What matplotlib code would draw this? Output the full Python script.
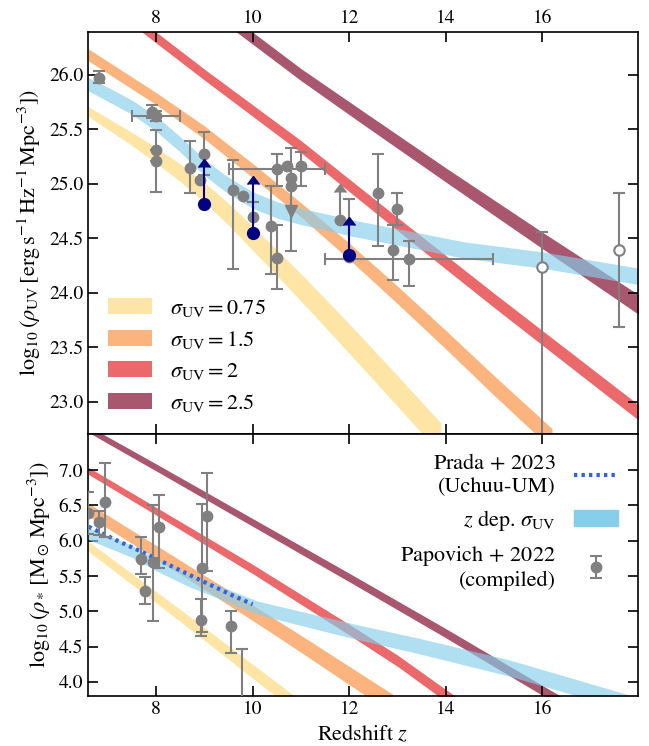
import matplotlib
matplotlib.use("Agg")
import matplotlib.pyplot as plt
import numpy as np
from matplotlib.patches import Patch

plt.rcParams.update({
    "font.family": "serif",
    "font.serif": ["STIXGeneral", "Liberation Serif", "DejaVu Serif"],
    "mathtext.fontset": "stix",
    "font.size": 16,
    "xtick.labelsize": 14, "ytick.labelsize": 14,
    "axes.linewidth": 1.2,
})

# ---- rho_UV bands (centre, full thickness) ----
uv_z_075 = [6.6, 7.5, 8.0, 8.5, 9.0, 9.5, 10.0, 11.0, 12.0, 13.0, 13.9]
uv_c_075 = [25.66, 25.41, 25.26, 25.10, 24.92, 24.72, 24.50, 24.05, 23.58, 23.10, 22.66]
uv_w_075 = [0.09, 0.12, 0.14, 0.16, 0.18, 0.20, 0.22, 0.25, 0.27, 0.28, 0.29]

uv_z_15 = [6.6, 8.0, 9.0, 10.0, 11.0, 12.0, 13.0, 14.0, 15.0, 16.2]
uv_c_15 = [26.18, 25.78, 25.47, 25.12, 24.76, 24.38, 23.98, 23.57, 23.15, 22.66]
uv_w_15 = [0.11, 0.11, 0.12, 0.13, 0.13, 0.15, 0.16, 0.17, 0.18, 0.19]

uv_z_2 = [7.5, 9.0, 11.0, 13.0, 15.0, 18.0]
uv_c_2 = [26.51, 26.00, 25.34, 24.63, 23.93, 22.90]
uv_w_2 = [0.10, 0.10, 0.11, 0.12, 0.13, 0.14]

uv_z_25 = [9.5, 11.0, 12.2, 14.0, 16.0, 18.0]
uv_c_25 = [26.50, 26.00, 25.63, 25.08, 24.48, 23.89]
uv_w_25 = [0.11, 0.11, 0.12, 0.13, 0.15, 0.18]

uv_z_zdep = [6.6, 7.0, 7.5, 8.0, 8.5, 9.0, 9.44, 10.0, 10.5, 11.0, 12.1, 14.4, 16.0, 18.0]
uv_c_zdep = [25.91, 25.82, 25.70, 25.55, 25.36, 25.15, 25.00, 24.85, 24.76, 24.70, 24.59, 24.39, 24.30, 24.15]
uv_w_zdep = [0.12, 0.13, 0.13, 0.14, 0.14, 0.15, 0.15, 0.15, 0.15, 0.15, 0.15, 0.15, 0.15, 0.15]

# ---- rho_* bands ----
sm_z_075 = [6.6, 8.0, 9.0, 10.0, 10.9]
sm_c_075 = [5.92, 5.20, 4.68, 4.15, 3.68]
sm_w_075 = [0.14, 0.16, 0.18, 0.20, 0.21]

sm_z_15 = [6.6, 8.0, 9.0, 10.0, 11.0, 12.0, 12.9]
sm_c_15 = [6.44, 5.84, 5.41, 4.98, 4.54, 4.09, 3.69]
sm_w_15 = [0.18, 0.19, 0.20, 0.22, 0.24, 0.26, 0.27]

sm_z_2 = [6.6, 8.0, 10.0, 12.0, 13.0, 14.2]
sm_c_2 = [6.99, 6.42, 5.60, 4.74, 4.30, 3.71]
sm_w_2 = [0.10, 0.11, 0.13, 0.15, 0.16, 0.17]

sm_z_25 = [6.6, 8.0, 10.0, 12.0, 14.0, 16.0, 16.5]
sm_c_25 = [7.58, 7.04, 6.26, 5.48, 4.69, 3.88, 3.68]
sm_w_25 = [0.09, 0.10, 0.11, 0.12, 0.13, 0.14, 0.14]

sm_z_zdep = [6.6, 7.5, 8.0, 8.68, 9.2, 9.7, 10.1, 11.0, 12.2, 13.5, 15.3, 17.3, 18.0]
sm_c_zdep = [6.10, 5.85, 5.66, 5.44, 5.30, 5.16, 5.05, 4.90, 4.70, 4.50, 4.20, 3.80, 3.66]
sm_w_zdep = [0.17, 0.17, 0.17, 0.18, 0.18, 0.19, 0.19, 0.20, 0.21, 0.22, 0.23, 0.23, 0.23]

# Prada+2023 (Uchuu-UM)
prada_z = [6.6, 7.2, 7.65, 8.2, 8.68, 9.2, 9.57, 10.0]
prada_v = [6.20, 6.00, 5.86, 5.68, 5.52, 5.35, 5.23, 5.10]

# ---- Papovich+2022 compiled, rho_UV ----
uv_pz = [6.81, 7.91, 8.0, 8.0, 8.7, 9.0, 9.59, 10.0, 10.39, 10.5, 10.8, 11.01, 12.0, 12.59, 12.99, 12.9]
uv_pv = [25.97, 25.66, 25.31, 25.21, 25.14, 25.27, 24.94, 24.69, 24.61, 24.32, 25.05, 25.16, 24.33, 24.91, 24.77, 24.39]
uv_plo = [0.05, 0.06, 0.10, 0.29, 0.23, 0.19, 0.72, 0.14, 0.44, 0.29, 0.67, 0.18, 0.0, 0.48, 0.15, 0.27]
uv_phi = [0.06, 0.06, 0.18, 0.10, 0.25, 0.20, 0.28, 0.14, 0.37, 0.30, 0.28, 0.13, 0.53, 0.36, 0.14, 0.23]
# points with a redshift range
uv_xz = [8.0, 10.5, 13.24]
uv_xv = [25.62, 25.13, 24.31]
uv_xdz = [0.5, 1.0, 1.74]
uv_xlo = [0.05, 0.15, 0.25]
uv_xhi = [0.05, 0.14, 0.16]
# points without bars
uv_nz = [8.9, 9.8, 10.71, 10.8]
uv_nv = [25.03, 24.89, 25.16, 24.98]
# gray limits
uv_upper_z, uv_upper_v = [10.8], [24.75]
uv_glim_z, uv_glim_v, uv_glim_d = [11.8], [24.67], [0.25]
# open symbols
uv_oz = [16.0, 17.59]
uv_ov = [24.24, 24.39]
uv_olo = [2.0, 0.70]
uv_ohi = [0.32, 0.52]
# blue lower limits
uv_bz = [9.0, 10.0, 12.0]
uv_bv = [24.81, 24.55, 24.35]
uv_bd = [0.34, 0.45, 0.27]

# ---- Papovich+2022 compiled, rho_* ----
sm_pz = [6.6, 6.81, 6.95, 7.68, 7.77, 7.94, 8.06, 8.92, 8.95, 9.06, 9.55, 9.77]
sm_pv = [6.39, 6.27, 6.55, 5.74, 5.29, 5.70, 6.19, 4.88, 5.62, 6.35, 4.79, 3.60]
sm_plo = [0.30, 0.19, 0.50, 0.21, 0.18, 0.83, 0.58, 0.23, 0.91, 0.78, 0.38, 0.30]
sm_phi = [0.30, 0.15, 0.55, 0.32, 0.20, 0.80, 0.46, 0.30, 0.90, 0.61, 0.21, 0.87]

C075, C15, C2, C25 = "#fee5a5", "#fcb47e", "#eb686b", "#a9566f"
CZ = "#87ceeb"
GRAY = "#808080"

fig = plt.figure(figsize=(6.49, 7.46), dpi=100)
ax1 = fig.add_axes([0.1356, 0.4189, 0.8474, 0.5382])
ax2 = fig.add_axes([0.1356, 0.067, 0.8474, 0.3519])


def band(ax, z, c, w, color, alpha=1.0, zorder=1):
    c = np.asarray(c); w = np.asarray(w)
    return ax.fill_between(z, c - w / 2, c + w / 2, color=color, alpha=alpha, lw=0, zorder=zorder)


ebkw = dict(fmt="o", color=GRAY, ms=7.5, elinewidth=1.5, capsize=4, capthick=1.5, zorder=5)

# ---- top panel ----
h075 = band(ax1, uv_z_075, uv_c_075, uv_w_075, C075)
h15 = band(ax1, uv_z_15, uv_c_15, uv_w_15, C15)
h2 = band(ax1, uv_z_2, uv_c_2, uv_w_2, C2)
h25 = band(ax1, uv_z_25, uv_c_25, uv_w_25, C25)
band(ax1, uv_z_zdep, uv_c_zdep, uv_w_zdep, CZ, alpha=0.65, zorder=2)

ax1.errorbar(uv_pz, uv_pv, yerr=[uv_plo, uv_phi], ls="none", **ebkw)
ax1.errorbar(uv_xz, uv_xv, xerr=uv_xdz, yerr=[uv_xlo, uv_xhi], ls="none", **ebkw)
ax1.plot(uv_nz, uv_nv, "o", color=GRAY, ms=7.5, zorder=5)
ax1.plot(uv_upper_z, uv_upper_v, "v", color=GRAY, ms=8, zorder=5)
ax1.errorbar(uv_glim_z, uv_glim_v, yerr=[[0] * len(uv_glim_d), uv_glim_d], lolims=True,
             fmt="o", color=GRAY, ms=7.5, elinewidth=1.5, capsize=4, zorder=5)
ax1.errorbar(uv_oz, uv_ov, yerr=[uv_olo, uv_ohi], fmt="o", color=GRAY, mfc="white", mec=GRAY,
             mew=1.5, ms=7.5, elinewidth=1.5, capsize=4, capthick=1.5, zorder=5)
ax1.errorbar(uv_bz, uv_bv, yerr=[[0] * len(uv_bd), uv_bd], lolims=True,
             fmt="o", color="navy", ms=8.5, elinewidth=1.5, capsize=4, zorder=6)

ax1.legend([h075, h15, h2, h25],
           [r"$\sigma_{\rm UV} = 0.75$", r"$\sigma_{\rm UV} = 1.5$",
            r"$\sigma_{\rm UV} = 2$", r"$\sigma_{\rm UV} = 2.5$"],
           loc="lower left", frameon=False, fontsize=16, labelspacing=0.45)

ax1.set_xlim(6.59, 17.98)
ax1.set_ylim(22.71, 26.39)
ax1.set_yticks(np.arange(23.0, 26.01, 0.5))
ax1.set_xticks([8, 10, 12, 14, 16])
ax1.set_ylabel(r"$\log_{10}(\rho_{\rm UV}\,[\rm erg\,s^{-1}\,Hz^{-1}\,Mpc^{-3}])$")
ax1.tick_params(direction="in", top=True, right=True, labeltop=True, labelbottom=False,
                length=7, width=1.2)

# ---- bottom panel ----
band(ax2, sm_z_075, sm_c_075, sm_w_075, C075)
band(ax2, sm_z_15, sm_c_15, sm_w_15, C15)
band(ax2, sm_z_2, sm_c_2, sm_w_2, C2)
band(ax2, sm_z_25, sm_c_25, sm_w_25, C25)
band(ax2, sm_z_zdep, sm_c_zdep, sm_w_zdep, CZ, alpha=0.65, zorder=2)
hp, = ax2.plot(prada_z, prada_v, color="#2f62e6", lw=3.0, ls=(0, (0.8, 1.0)), zorder=3)
he = ax2.errorbar(sm_pz, sm_pv, yerr=[sm_plo, sm_phi], ls="none", **ebkw)

leg = ax2.legend([hp, Patch(color=CZ), he],
                 ["Prada$\\,+\\,$2023\n(Uchuu-UM)", r"$z$ dep. $\sigma_{\rm UV}$",
                  "Papovich$\\,+\\,$2022\n(compiled)"],
                 loc="upper right", frameon=False, markerfirst=False, fontsize=16)
for t in leg.get_texts():
    t.set_multialignment("right")

ax2.set_xlim(6.59, 17.98)
ax2.set_ylim(3.80, 7.52)
ax2.set_yticks(np.arange(4.0, 7.01, 0.5))
ax2.set_xticks([8, 10, 12, 14, 16])
ax2.set_xlabel(r"Redshift $z$")
ax2.set_ylabel(r"$\log_{10}(\rho_*\,[\rm M_\odot\,Mpc^{-3}])$")
ax2.tick_params(direction="in", top=True, right=True, length=7, width=1.2)

fig.savefig("out.png", dpi=100)
